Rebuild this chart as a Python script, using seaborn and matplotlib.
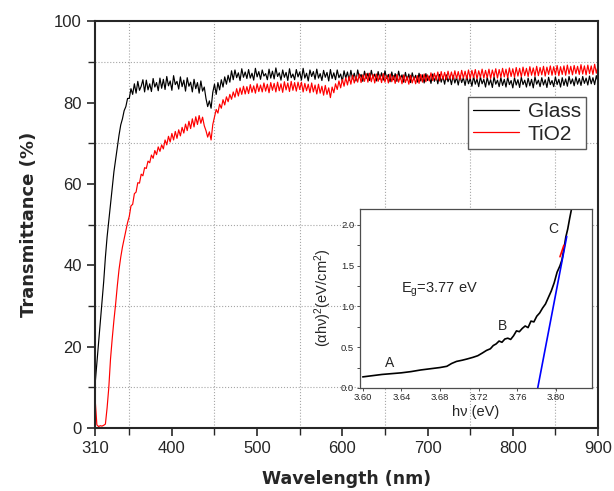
import numpy as np
import matplotlib
matplotlib.use('Agg')
import matplotlib.pyplot as plt
from matplotlib.ticker import FixedLocator, MultipleLocator, FormatStrFormatter
import seaborn as sns

# transmittance spectra, every 2 nm (310..900)
wavelength = np.arange(310, 901, 2)

glass = [
    11, 16, 21, 26, 31, 36, 42, 47, 51, 55,
    59, 63, 66, 69, 72, 74.5, 76, 78, 79, 81,
    81.0, 83.4, 82.0, 84.6, 82.3, 85.2, 83.0, 84.0, 85.6, 82.6,
    85.5, 83.1, 84.6, 82.7, 85.9, 83.8, 84.9, 82.9, 86.0, 83.5,
    85.7, 83.2, 86.4, 84.1, 85.3, 83.0, 86.6, 84.4, 85.2, 83.3,
    86.3, 83.9, 85.5, 82.8, 86.1, 84.0, 85.0, 82.6, 85.7, 83.4,
    84.9, 82.3, 85.3, 82.8, 83.8, 81.0, 79.0, 80.4, 78.6, 82.5,
    84.5, 82.0, 84.9, 83.1, 85.6, 83.8, 86.3, 84.5, 86.7, 85.0,
    87.8, 85.6, 88.0, 86.1, 87.3, 85.4, 88.3, 86.2, 87.5, 85.9,
    88.1, 86.0, 87.2, 85.5, 88.4, 86.3, 87.6, 85.7, 88.0, 86.5,
    87.1, 85.6, 88.2, 86.0, 87.7, 85.8, 88.5, 86.4, 87.3, 85.5,
    88.0, 86.2, 87.4, 85.4, 88.3, 86.1, 87.0, 85.6, 88.1, 86.3,
    87.5, 85.5, 88.4, 86.0, 87.2, 85.3, 88.0, 86.4, 87.6, 85.7,
    88.2, 86.0, 87.1, 85.4, 87.9, 86.2, 87.4, 85.3, 88.1, 85.9,
    87.3, 85.6, 88.0, 86.1, 87.0, 85.2, 87.8, 86.0, 87.5, 85.4,
    87.9, 85.8, 87.2, 85.3, 88.0, 86.1, 86.9, 85.2, 87.7, 85.9,
    87.2, 85.4, 87.9, 86.0, 87.0, 85.3, 87.6, 85.7, 87.3, 85.5,
    87.8, 85.9, 86.9, 85.1, 87.5, 85.6, 87.1, 85.2, 87.7, 85.8,
    86.8, 85.0, 87.4, 85.5, 87.0, 84.9, 87.3, 85.6, 86.7, 85.0,
    87.2, 85.3, 86.8, 84.8, 87.1, 85.4, 86.5, 84.7, 87.0, 85.2,
    86.6, 84.6, 86.9, 85.0, 86.4, 84.5, 86.8, 85.1, 86.3, 84.4,
    86.7, 84.8, 86.2, 84.3, 86.6, 84.9, 86.1, 84.2, 86.5, 84.6,
    85.9, 84.0, 86.4, 84.5, 85.8, 83.9, 86.3, 84.6, 85.7, 83.8,
    86.2, 84.3, 85.6, 83.7, 86.3, 84.5, 85.5, 83.9, 86.1, 84.2,
    85.7, 83.8, 86.2, 84.4, 85.4, 83.6, 86.1, 84.3, 85.6, 83.7,
    86.2, 84.4, 85.5, 83.8, 86.0, 84.1, 85.7, 83.6, 86.3, 84.5,
    85.5, 83.9, 86.1, 84.3, 85.6, 83.7, 86.2, 84.4, 85.4, 83.9,
    86.3, 84.4, 85.7, 83.8, 86.1, 84.2, 85.8, 84.0, 86.4, 84.6,
    85.8, 84.1, 86.3, 84.5, 85.9, 84.2, 86.4, 84.7, 86.0, 84.3,
    86.5, 84.6, 86.1, 84.4, 86.6, 85.0,
]

tio2 = [
    7, 0.8, 0.4, 0.6, 0.5, 0.7, 1.0, 5, 10, 17,
    22, 26.5, 30.5, 35, 39, 42, 44.5, 46.5, 48.5, 50.5,
    52.0, 54.6, 55.0, 57.6, 58.0, 60.3, 60.2, 62.4, 62.0, 64.0,
    63.8, 65.6, 65.2, 67.1, 66.3, 68.2, 67.2, 69.1, 68.0, 69.6,
    68.6, 70.8, 69.6, 71.7, 70.3, 72.4, 70.8, 72.9, 71.2, 73.3,
    71.8, 73.9, 72.5, 74.7, 73.1, 75.4, 73.6, 76.0, 74.0, 76.5,
    74.6, 76.8, 74.9, 76.4, 74.3, 73.1, 71.5, 72.8, 70.8, 74.6,
    76.5, 78.3, 77.4, 79.6, 78.6, 80.7, 79.4, 81.4, 80.2, 82.0,
    80.8, 82.6, 81.3, 83.4, 81.6, 83.6, 82.0, 84.0, 82.1, 83.9,
    82.2, 84.4, 82.5, 84.1, 82.3, 84.6, 82.7, 84.3, 82.6, 84.8,
    82.8, 84.5, 82.4, 84.9, 83.0, 84.7, 82.6, 85.0, 82.9, 84.6,
    82.5, 85.1, 83.1, 84.8, 82.7, 85.2, 83.0, 84.9, 82.8, 85.0,
    83.2, 85.0, 82.6, 84.7, 82.9, 84.5, 82.4, 84.8, 82.6, 84.3,
    82.1, 84.5, 82.3, 84.0, 81.8, 84.2, 82.0, 83.6, 81.2, 83.8,
    82.4, 84.6, 83.2, 85.3, 83.6, 85.7, 84.0, 86.1, 84.3, 86.4,
    84.5, 86.7, 84.8, 86.5, 85.0, 87.0, 84.9, 86.8, 85.2, 87.1,
    85.0, 87.2, 85.1, 86.9, 84.8, 87.0, 85.2, 86.8, 84.9, 87.1,
    85.0, 86.7, 84.8, 87.0, 85.1, 86.6, 84.7, 86.9, 85.0, 86.5,
    84.6, 86.8, 84.9, 86.4, 84.5, 86.7, 84.8, 86.3, 84.6, 86.6,
    84.7, 86.9, 85.0, 87.0, 85.1, 86.8, 85.3, 87.3, 85.4, 87.2,
    85.5, 87.5, 85.3, 87.6, 85.7, 87.4, 85.6, 87.7, 85.8, 87.5,
    85.7, 87.8, 85.9, 87.6, 85.6, 87.9, 86.0, 87.7, 85.8, 88.0,
    85.9, 87.9, 86.1, 88.1, 85.8, 87.8, 86.2, 88.2, 86.0, 87.9,
    86.1, 88.2, 85.9, 88.0, 86.3, 88.3, 86.0, 88.1, 86.2, 88.4,
    86.3, 88.2, 86.1, 88.5, 86.4, 88.3, 86.2, 88.6, 86.5, 88.4,
    86.3, 88.7, 86.6, 88.4, 86.4, 88.8, 86.7, 88.5, 86.5, 88.9,
    86.6, 88.6, 86.8, 88.9, 86.5, 88.7, 86.9, 89.0, 86.7, 88.8,
    86.8, 89.1, 86.6, 88.8, 86.9, 89.0, 86.7, 89.2, 87.0, 88.9,
    86.8, 89.1, 87.1, 88.9, 86.9, 89.3, 87.0, 89.0, 86.8, 89.2,
    87.1, 89.0, 86.9, 89.4, 87.2, 89.1,
]

# Tauc plot inset
inset_hv = [3.600, 3.610, 3.620, 3.630, 3.640, 3.650, 3.660, 3.670, 3.680, 3.687,
            3.692, 3.697, 3.703, 3.708, 3.714, 3.719, 3.724, 3.728, 3.732, 3.735,
            3.738, 3.741, 3.744, 3.747, 3.750, 3.753, 3.756, 3.759, 3.762, 3.765,
            3.768, 3.771, 3.774, 3.777, 3.780, 3.783, 3.786, 3.789, 3.792, 3.795,
            3.798, 3.801, 3.804, 3.806, 3.808, 3.810, 3.812, 3.814, 3.816]
inset_ahv2 = [0.135, 0.150, 0.165, 0.175, 0.185, 0.200, 0.220, 0.235, 0.250, 0.265,
              0.300, 0.325, 0.340, 0.355, 0.375, 0.395, 0.430, 0.460, 0.480, 0.520,
              0.540, 0.575, 0.560, 0.600, 0.610, 0.595, 0.640, 0.700, 0.690, 0.730,
              0.760, 0.740, 0.820, 0.810, 0.880, 0.920, 0.980, 1.030, 1.110, 1.190,
              1.290, 1.420, 1.500, 1.570, 1.700, 1.850, 1.950, 2.080, 2.200]
fit_hv = [3.781, 3.811]
fit_ahv2 = [0.0, 1.86]
fitrange_hv = [3.804, 3.808]
fitrange_ahv2 = [1.61, 1.75]

x_major = [310, 400, 500, 600, 700, 800, 900]
x_minor = [350, 450, 550, 650, 750, 850]
inset_xticks = [3.60, 3.64, 3.68, 3.72, 3.76, 3.80]


def main():
    sns.set_style('ticks')
    plt.rcParams['font.family'] = ['Liberation Sans', 'DejaVu Sans']
    plt.rcParams['mathtext.fontset'] = 'custom'
    plt.rcParams['mathtext.rm'] = 'Liberation Sans'
    plt.rcParams['mathtext.it'] = 'Liberation Sans'

    fig = plt.figure(figsize=(6.14, 4.91), dpi=100)
    ax = fig.add_axes([0.155, 0.128, 0.819, 0.829])

    sns.lineplot(x=wavelength, y=glass, color='black', lw=0.85, label='Glass', ax=ax)
    sns.lineplot(x=wavelength, y=tio2, color='red', lw=0.85, label='TiO2', ax=ax)

    ax.set_xlim(310, 900)
    ax.set_ylim(0, 100)
    ax.xaxis.set_major_locator(FixedLocator(x_major))
    ax.xaxis.set_minor_locator(FixedLocator(x_minor))
    ax.yaxis.set_major_locator(MultipleLocator(20))
    ax.yaxis.set_minor_locator(MultipleLocator(10))
    ax.tick_params(which='major', direction='out', length=6, width=1.2, labelsize=12,
                   top=False, right=False, color='0.15')
    ax.tick_params(which='minor', direction='out', length=5, width=1.0,
                   top=False, right=False, color='0.15')
    ax.grid(which='minor', ls=':', color='0.65', lw=0.8)
    ax.grid(which='major', visible=False)
    for s in ax.spines.values():
        s.set_linewidth(1.5)
        s.set_color('0.15')

    ax.set_xlabel('Wavelength (nm)', fontsize=12.5, fontweight='bold',
                  family='DejaVu Sans', labelpad=10)
    ax.set_ylabel('Transmittance (%)', fontsize=13, fontweight='bold',
                  family='DejaVu Sans', labelpad=12)

    leg = ax.legend(loc='upper right', bbox_to_anchor=(0.976, 0.813), fontsize=15,
                    frameon=True, fancybox=False, edgecolor='0.35', framealpha=1,
                    borderpad=0.25, labelspacing=0.15, handlelength=2.2,
                    handletextpad=0.4, borderaxespad=0)
    for line in leg.get_lines():
        line.set_linewidth(0.9)

    # inset: Tauc plot
    ins = fig.add_axes([0.586, 0.210, 0.378, 0.365])
    sns.lineplot(x=inset_hv, y=inset_ahv2, color='black', lw=1.2, ax=ins)
    sns.lineplot(x=fit_hv, y=fit_ahv2, color='blue', lw=1.2, ax=ins)
    sns.lineplot(x=fitrange_hv, y=fitrange_ahv2, color='red', lw=1.2, ax=ins)
    ins.set_xlim(3.597, 3.837)
    ins.set_ylim(0, 2.2)
    ins.xaxis.set_major_locator(FixedLocator(inset_xticks))
    ins.xaxis.set_major_formatter(FormatStrFormatter('%.2f'))
    ins.yaxis.set_major_locator(MultipleLocator(0.5))
    ins.yaxis.set_minor_locator(MultipleLocator(0.25))
    ins.yaxis.set_major_formatter(FormatStrFormatter('%.1f'))
    ins.tick_params(which='both', direction='out', length=2.5, width=0.7,
                    labelsize=6.8, color='0.3', pad=1.5)
    for s in ins.spines.values():
        s.set_linewidth(0.9)
        s.set_color('0.3')
    ins.set_xlabel('h\u03bd (eV)', fontsize=10.5, labelpad=2)
    ins.set_ylabel('(\u03b1h\u03bd)$^2$(eV/cm$^2$)', fontsize=10.5, labelpad=5)

    ins.text(3.640, 1.17, 'E$_g$=3.77 eV', fontsize=10.5, va='baseline')
    ins.text(3.623, 0.26, 'A', fontsize=10, va='baseline')
    ins.text(3.740, 0.71, 'B', fontsize=10, va='baseline')
    ins.text(3.792, 1.90, 'C', fontsize=10, va='baseline')

    fig.savefig('out.png', dpi=100)
    plt.close(fig)


if __name__ == '__main__':
    main()
